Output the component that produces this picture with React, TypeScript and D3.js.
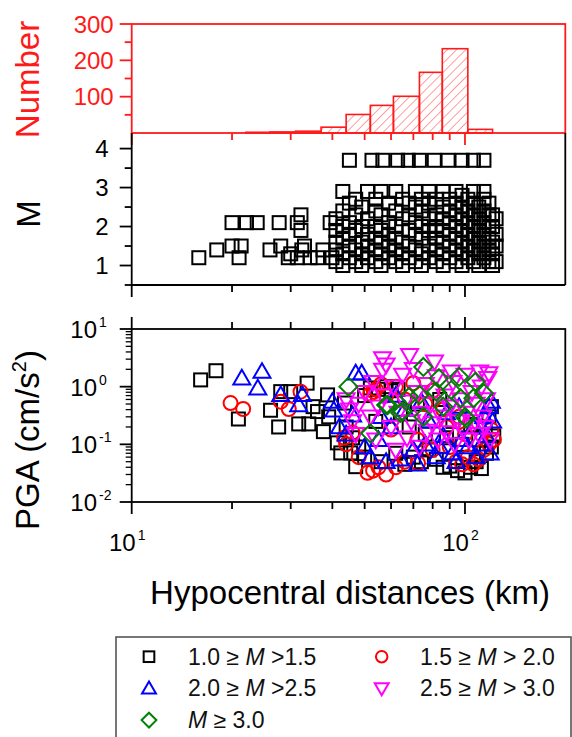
import React from "react";
import * as d3 from "d3";

// ---------- data ----------
const histEdges = [22, 26, 31, 37, 44, 52, 61, 73, 85.5, 102, 121];
const histCounts = [2, 3, 5, 16, 51, 76, 101, 167, 232, 10];
const histTicks = [100, 200, 300];
const histMinor = [50, 150, 250];
const mTicks = [1, 2, 3, 4];
const mMinor = [0.5, 1.5, 2.5, 3.5];
const xMajor = [10, 100];
const xMinor = [20, 30, 40, 50, 60, 70, 80, 90];
const pgaMajor = [0.01, 0.1, 1, 10];
const pgaExp = ["-2", "-1", "0", "1"];

// M vs distance (black squares)
const magPoints: [number, number][] = [
  [15.9, 1.2], [18.0, 1.4], [20, 1.5], [21.3, 1.5], [21, 1.2], [20, 2.1], [22.1, 2.1], [23.8, 2.1],
  [27.7, 2.1], [31.4, 2.1], [32.2, 2.3], [32.2, 1.9], [26, 1.4], [28, 1.5], [29.5, 1.2], [31.4, 1.2],
  [32.4, 1.4], [34.3, 1.2], [36.1, 1.2], [37.5, 1.4], [39.9, 1.2], [39.4, 2.1], [33, 1.5], [30, 1.3],
  [45, 3.7], [52.6, 3.7], [56.7, 3.7], [62.8, 3.7], [67.6, 3.7], [73, 3.7], [80.9, 3.7], [89, 3.7], [98, 3.7], [106, 3.7], [114, 3.7],
  [41, 1.1], [41, 1.4], [41, 1.6], [41, 1.9], [41, 2.2],
  [43, 1.0], [43, 1.3], [43, 1.7], [43, 2.0], [43, 2.4], [43, 2.9],
  [45, 1.2], [45, 1.5], [45, 1.8], [45, 2.1], [45, 2.6],
  [47, 1.1], [47, 1.4], [47, 1.9], [47, 2.3], [47, 2.7],
  [49, 1.0], [49, 1.3], [49, 1.6], [49, 2.0], [49, 2.5],
  [51, 1.2], [51, 1.5], [51, 1.8], [51, 2.2], [51, 2.9],
  [54, 1.1], [54, 1.4], [54, 1.7], [54, 2.0], [54, 2.4], [54, 2.7],
  [56, 1.0], [56, 1.3], [56, 1.6], [56, 1.9], [56, 2.3], [56, 2.9],
  [59, 1.2], [59, 1.5], [59, 1.8], [59, 2.1], [59, 2.6],
  [62, 1.1], [62, 1.4], [62, 1.7], [62, 2.0], [62, 2.4], [62, 2.9],
  [65, 1.0], [65, 1.3], [65, 1.6], [65, 2.2], [65, 2.7],
  [68, 1.2], [68, 1.5], [68, 1.9], [68, 2.3], [68, 2.6],
  [71, 1.1], [71, 1.4], [71, 1.8], [71, 2.1], [71, 2.5], [71, 2.9],
  [74, 1.0], [74, 1.3], [74, 1.7], [74, 2.0], [74, 2.4], [74, 2.7],
  [78, 1.2], [78, 1.5], [78, 1.9], [78, 2.2], [78, 2.6], [78, 2.9],
  [82, 1.1], [82, 1.4], [82, 1.7], [82, 2.0], [82, 2.3], [82, 2.7],
  [86, 1.0], [86, 1.3], [86, 1.6], [86, 1.9], [86, 2.2], [86, 2.5], [86, 2.9],
  [90, 1.2], [90, 1.5], [90, 1.8], [90, 2.1], [90, 2.4], [90, 2.7],
  [94, 1.1], [94, 1.4], [94, 1.7], [94, 2.0], [94, 2.3], [94, 2.6], [94, 2.9],
  [98, 1.0], [98, 1.3], [98, 1.6], [98, 1.9], [98, 2.2], [98, 2.5], [98, 2.8],
  [102, 1.2], [102, 1.5], [102, 1.8], [102, 2.1], [102, 2.4], [102, 2.7],
  [106, 1.1], [106, 1.4], [106, 1.7], [106, 2.0], [106, 2.3], [106, 2.6], [106, 2.9],
  [110, 1.0], [110, 1.3], [110, 1.6], [110, 1.9], [110, 2.2], [110, 2.5],
  [114, 1.2], [114, 1.5], [114, 1.8], [114, 2.1], [114, 2.4], [114, 2.7], [114, 2.9],
  [118, 1.1], [118, 1.4], [118, 1.7], [118, 2.0], [118, 2.3], [118, 2.6],
  [121, 1.0], [121, 1.3], [121, 1.6], [121, 2.0], [121, 2.3],
  [124, 1.1], [124, 1.5], [124, 1.8], [124, 2.2],
];

// PGA vs distance, per magnitude class
const pgaM1: [number, number][] = [
  [16.1, 1.31], [17.9, 1.89], [20.9, 0.275], [26.1, 0.39], [27.6, 0.2], [31.7, 0.226], [34, 0.226], [33.6, 1.15],
  [37.6, 0.166], [36.1, 0.37], [38.7, 0.72], [41.4, 0.106], [42.4, 0.071], [45.4, 0.071], [47, 0.041], [28, 0.82],
  [30, 0.82], [35, 0.45], [39, 0.3], [43.5, 0.52], [44, 0.2], [46, 0.13], [48, 0.09], [50, 0.7], [52, 0.95],
  [55, 0.9], [58, 1.0], [60, 0.85], [63, 0.9], [50, 0.06], [56, 0.05], [62, 0.07], [66, 0.045], [70, 0.06],
  [74, 0.05], [78, 0.08], [82, 0.055], [86, 0.04], [90, 0.042], [95, 0.035], [100, 0.032], [104, 0.04],
  [108, 0.05], [112, 0.038], [116, 0.07], [120, 0.09], [122, 0.14], [118, 0.3], [120, 0.45], [110, 0.12],
  [98, 0.1], [88, 0.13], [76, 0.15], [68, 0.2], [54, 0.25], [64, 0.35], [72, 0.5], [84, 0.6], [92, 0.25],
  [104, 0.22], [115, 0.2],
];
const pgaM2: [number, number][] = [
  [19.8, 0.52], [21.6, 0.41], [28, 0.55], [29.6, 0.41], [32.1, 0.82], [43.4, 0.13], [51, 0.032], [53.3, 0.82],
  [44, 0.1], [46, 0.16], [48, 0.06], [53, 0.035], [55, 0.04], [58, 0.03], [62, 0.04], [66, 0.05], [52, 0.75],
  [54, 0.9], [56, 1.1], [58, 0.7], [62, 1.0], [66, 0.6], [70, 1.15], [76, 0.5], [80, 0.85], [86, 0.4], [90, 0.09],
  [94, 0.05], [98, 0.045], [102, 0.06], [106, 0.045], [110, 0.055], [114, 0.08], [118, 0.1], [122, 0.12],
  [120, 0.18], [100, 0.15], [88, 0.2], [72, 0.12], [60, 0.18], [80, 0.08], [96, 0.3], [72.3, 0.047],
];
const pgaM3: [number, number][] = [
  [21.4, 1.4], [24.6, 1.82], [23.9, 0.94], [28, 0.72], [32.5, 0.72], [31.7, 0.48], [40, 0.55], [40.4, 0.39],
  [47, 1.71], [49, 1.71], [42, 0.2], [44, 0.15], [46, 0.32], [50, 0.09], [52, 0.06], [55, 0.12], [58, 0.05],
  [60, 0.2], [64, 0.055], [66, 0.4], [70, 0.08], [72, 0.045], [76, 0.1], [78, 0.25], [82, 0.06], [86, 0.14],
  [88, 0.35], [92, 0.07], [94, 0.05], [98, 0.12], [102, 0.09], [106, 0.2], [108, 0.06], [112, 0.1], [114, 0.3],
  [116, 0.14], [118, 0.45], [120, 0.55], [121, 0.25], [119, 0.07], [62, 0.7], [74, 0.55], [96, 0.45], [84, 0.09],
  [56, 0.3],
];
const pgaM4: [number, number][] = [
  [56.6, 3.1], [68.2, 3.5], [81, 2.7], [56.6, 1.95], [91, 1.82], [110.8, 1.82], [117, 1.4], [44, 0.6], [45, 0.4],
  [46, 0.25], [47, 0.15], [48, 0.5], [50, 0.8], [52, 0.3], [53, 1.2], [54, 0.12], [55, 0.45], [57, 0.7], [58, 2.4],
  [60, 0.2], [61, 1.0], [62, 0.08], [63, 0.35], [65, 1.6], [66, 0.55], [67, 0.13], [69, 0.25], [70, 2.0], [72, 0.8],
  [73, 0.09], [74, 0.35], [76, 1.1], [77, 0.17], [79, 0.5], [80, 0.23], [82, 1.5], [83, 0.12], [85, 0.3], [87, 0.7],
  [88, 0.16], [90, 0.45], [92, 1.2], [93, 0.1], [95, 0.25], [97, 0.6], [99, 0.18], [100, 1.6], [101, 0.35],
  [103, 0.12], [105, 0.8], [107, 0.25], [108, 0.5], [110, 0.15], [112, 1.0], [113, 0.3], [115, 0.2], [116, 0.6],
  [118, 1.7], [119, 0.12],
];
const pgaM5: [number, number][] = [
  [44.7, 1.0], [52, 0.155], [58, 0.48], [64, 0.35], [68, 0.67], [75, 2.2], [75, 0.3], [83.5, 1.4], [86, 0.45],
  [91, 0.87], [96, 1.48], [97, 0.63], [100, 0.3], [107.6, 1.22], [114, 0.77], [106, 0.63], [73, 0.72], [65, 0.37],
  [82, 0.82], [101, 0.28], [58.6, 0.48],
];

const classLabels = [
  { pre: "1.0 \u2265 ", post: " >1.5" },
  { pre: "1.5 \u2265 ", post: " > 2.0" },
  { pre: "2.0 \u2265 ", post: " >2.5" },
  { pre: "2.5 \u2265 ", post: " > 3.0" },
  { pre: "", post: " \u2265 3.0" },
];

// ---------- layout ----------
const W = 572, H = 737;
const X0 = 131.7, X1 = 565.3;
const FONT = "'Liberation Sans', Arial, Helvetica, sans-serif";
const RED = "#ff1a1a";
const COLORS = ["#000000", "#ff0000", "#0000ff", "#ff00ff", "#008000"];
const SHAPES = ["square", "circle", "up", "down", "diamond"];

function Sym({ shape, cx, cy, color, k = 1 }: { shape: string; cx: number; cy: number; color: string; k?: number }) {
  const sw = 2;
  if (shape === "square") {
    const h = 6.5 * k;
    return <rect x={cx - h} y={cy - h} width={2 * h} height={2 * h} fill="none" stroke={color} strokeWidth={sw} />;
  }
  if (shape === "circle") return <circle cx={cx} cy={cy} r={7 * k} fill="none" stroke={color} strokeWidth={sw} />;
  const s = 8.5 * k;
  const t = 6.2 * k;
  let pts = "";
  if (shape === "up") pts = `${cx},${cy - s} ${cx + s},${cy + t} ${cx - s},${cy + t}`;
  else if (shape === "down") pts = `${cx - s},${cy - t} ${cx + s},${cy - t} ${cx},${cy + s}`;
  else {
    const dd = 9 * k;
    pts = `${cx},${cy - dd} ${cx + dd},${cy} ${cx},${cy + dd} ${cx - dd},${cy}`;
  }
  return <polygon points={pts} fill="none" stroke={color} strokeWidth={sw} strokeLinejoin="miter" />;
}

export default function App() {
  const x = d3.scaleLog().domain([10, 200]).range([X0, X1]);
  const yH = d3.scaleLinear().domain([0, 300]).range([133, 24]);
  const yM = d3.scaleLinear().domain([0.5, 4.4]).range([285, 133]);
  const yP = d3.scaleLog().domain([0.01, 10]).range([502, 329]);

  const pgaMinor: number[] = [];
  [0.01, 0.1, 1].forEach((b) => {
    for (let k = 2; k <= 9; k++) pgaMinor.push(b * k);
  });

  const pgaSets = [pgaM1, pgaM2, pgaM3, pgaM4, pgaM5];

  const xTicksAt = (y0: number, dir: number, color: string, key: string) => (
    <g key={key}>
      {xMajor.map((v) => (
        <line key={"M" + v} x1={x(v)} x2={x(v)} y1={y0} y2={y0 + dir * 12} stroke={color} strokeWidth={1.8} />
      ))}
      {xMinor.map((v) => (
        <line key={"m" + v} x1={x(v)} x2={x(v)} y1={y0} y2={y0 + dir * 7} stroke={color} strokeWidth={1.8} />
      ))}
    </g>
  );

  return (
    <svg width={W} height={H} style={{ position: "absolute", left: 0, top: 0, background: "#fff" }} fontFamily={FONT}>
      <defs>
        <pattern id="hatch" patternUnits="userSpaceOnUse" width={6.5} height={6.5} patternTransform="rotate(45)">
          <line x1={0} y1={0} x2={0} y2={6.5} stroke={RED} strokeWidth={1} strokeOpacity={0.85} />
        </pattern>
        <clipPath id="clipM">
          <rect x={X0} y={133} width={X1 - X0} height={152} />
        </clipPath>
        <clipPath id="clipP">
          <rect x={X0} y={329} width={X1 - X0} height={173} />
        </clipPath>
      </defs>

      {/* ---------- histogram panel ---------- */}
      {histCounts.map((c, i) => (
        <rect
          key={"h" + i}
          x={x(histEdges[i])}
          y={yH(c)}
          width={x(histEdges[i + 1]) - x(histEdges[i])}
          height={yH(0) - yH(c)}
          fill="url(#hatch)"
          stroke={RED}
          strokeWidth={1.6}
        />
      ))}
      <rect x={X0} y={yH(300)} width={X1 - X0} height={yH(0) - yH(300)} fill="none" stroke={RED} strokeWidth={1.8} />
      {histTicks.map((v) => (
        <g key={"ht" + v}>
          <line x1={X0 - 12} x2={X0} y1={yH(v)} y2={yH(v)} stroke={RED} strokeWidth={1.8} />
          <text x={X0 - 18} y={yH(v) + 8.5} fontSize={24} fill={RED} textAnchor="end">{v}</text>
        </g>
      ))}
      {histMinor.map((v) => (
        <line key={"hm" + v} x1={X0 - 7} x2={X0} y1={yH(v)} y2={yH(v)} stroke={RED} strokeWidth={1.8} />
      ))}
      {xTicksAt(yH(0), 1, RED, "histx")}
      <text transform={`translate(38.5,${(yH(300) + yH(0)) / 2 + 1}) rotate(-90)`} textAnchor="middle" fontSize={33} fill={RED}>
        Number
      </text>

      {/* ---------- M panel ---------- */}
      <g clipPath="url(#clipM)">
        {magPoints.map((p, i) => (
          <Sym key={"mp" + i} shape="square" cx={x(p[0])} cy={yM(p[1])} color="#000" />
        ))}
      </g>
      <line x1={X0} x2={X0} y1={133} y2={285} stroke="#000" strokeWidth={1.8} />
      <line x1={X1} x2={X1} y1={133} y2={285} stroke="#000" strokeWidth={1.8} />
      <line x1={X0} x2={X1} y1={285} y2={285} stroke="#000" strokeWidth={1.8} />
      {mTicks.map((v) => (
        <g key={"mt" + v}>
          <line x1={X0 - 12} x2={X0} y1={yM(v)} y2={yM(v)} stroke="#000" strokeWidth={1.8} />
          <text x={X0 - 23} y={yM(v) + 8.5} fontSize={24} fill="#000" textAnchor="end">{v}</text>
        </g>
      ))}
      {mMinor.map((v) => (
        <line key={"mm" + v} x1={X0 - 7} x2={X0} y1={yM(v)} y2={yM(v)} stroke="#000" strokeWidth={1.8} />
      ))}
      {xTicksAt(285, 1, "#000", "mx")}
      <text transform={`translate(40,214) rotate(-90)`} textAnchor="middle" fontSize={33} fill="#000">
        M
      </text>

      {/* ---------- PGA panel ---------- */}
      <g clipPath="url(#clipP)">
        {pgaSets.map((set, si) =>
          set.map((p, i) => (
            <Sym key={"p" + si + "_" + i} shape={SHAPES[si]} cx={x(p[0])} cy={yP(p[1])} color={COLORS[si]} />
          ))
        )}
      </g>
      <rect x={X0} y={329} width={X1 - X0} height={173} fill="none" stroke="#000" strokeWidth={1.8} />
      {xTicksAt(329, -1, "#000", "ptop")}
      {xTicksAt(502, 1, "#000", "pbot")}
      {pgaMajor.map((v, i) => (
        <g key={"pt" + v}>
          <line x1={X0 - 12} x2={X0} y1={yP(v)} y2={yP(v)} stroke="#000" strokeWidth={1.8} />
          <text x={97} y={yP(v) + 9} fontSize={24} textAnchor="end">10</text>
          <text x={99} y={yP(v) - 2} fontSize={14}>{pgaExp[i]}</text>
        </g>
      ))}
      {pgaMinor.map((v) => (
        <line key={"pm" + v} x1={X0 - 6} x2={X0} y1={yP(v)} y2={yP(v)} stroke="#000" strokeWidth={1.3} />
      ))}
      <text transform={`translate(38.5,440) rotate(-90)`} textAnchor="middle" fontSize={33} fill="#000">
        PGA (cm/s<tspan fontSize={20} dy={-13}>2</tspan><tspan dy={13}>)</tspan>
      </text>

      {/* x tick labels */}
      {xMajor.map((v, i) => (
        <g key={"xl" + v}>
          <text x={x(v) + 4} y={551} fontSize={24} textAnchor="end">10</text>
          <text x={x(v) + 6} y={540} fontSize={14}>{i + 1}</text>
        </g>
      ))}
      <text x={350} y={604} fontSize={33} textAnchor="middle">Hypocentral distances (km)</text>

      {/* ---------- legend ---------- */}
      <rect x={116} y={637} width={455} height={120} fill="none" stroke="#555" strokeWidth={1.6} />
      {classLabels.map((c, i) => {
        const col = i % 2;
        const row = Math.floor(i / 2);
        const sx = col === 0 ? 149 : 381.7;
        const tx = col === 0 ? 188 : 420;
        const cy = 656.7 + row * 31.7;
        return (
          <g key={"lg" + i}>
            <Sym shape={SHAPES[i]} cx={sx} cy={cy} color={COLORS[i]} k={0.82} />
            <text x={tx} y={cy + 8} fontSize={23} fill="#111">
              {c.pre}
              <tspan fontStyle="italic">M</tspan>
              {c.post}
            </text>
          </g>
        );
      })}
    </svg>
  );
}
